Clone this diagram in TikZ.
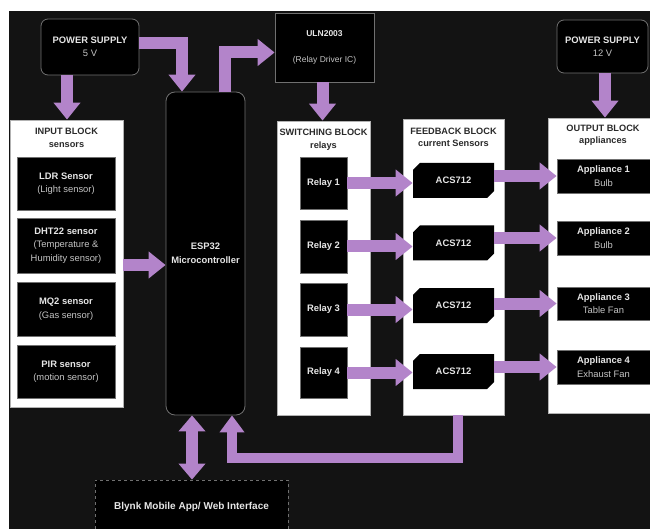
\documentclass[tikz,border=0pt]{standalone}
\usepackage{fontspec}
\setmainfont{Liberation Sans}
\usetikzlibrary{arrows.meta,shapes.misc,calc}
\definecolor{bgc}{HTML}{131313}
\definecolor{arrc}{HTML}{B384CA}
\definecolor{bordc}{HTML}{707070}
\definecolor{subc}{HTML}{C4C4C4}
\definecolor{txtc}{HTML}{E6E6E6}
\definecolor{ttlc}{HTML}{2A2A2A}
\begin{document}
\begin{tikzpicture}[x=1pt,y=-1pt,
  blk/.style={draw=bordc, line width=0.8pt, fill=black, text=txtc,
    font=\bfseries\fontsize{9.4}{13.5}\selectfont, align=center, inner sep=0pt},
  rblk/.style={blk, rounded corners=7pt},
  cont/.style={draw=gray!60, line width=0.8pt, fill=white, inner sep=0pt},
  ttl/.style={text=ttlc, font=\bfseries\fontsize{9.2}{12.5}\selectfont, align=center, inner sep=0pt},
  acs/.style={blk, draw=none, chamfered rectangle, chamfered rectangle corners={north west,south east},
    chamfered rectangle xsep=6pt, minimum width=81pt, minimum height=35pt},
  arr/.style={draw=arrc, line width=12pt, -{Triangle[width=26pt,length=17pt]}},
  arrt/.style={draw=arrc, line width=10pt, -{Triangle[width=24pt,length=17pt]}},
  darr/.style={draw=arrc, line width=12pt, {Triangle[width=26pt,length=16pt]}-{Triangle[width=26pt,length=16pt]}}
]
\clip (0,0) rectangle (650,529);
\fill[white] (0,0) rectangle (650,529);
\fill[bgc] (9,11) rectangle (650,529);

% power supplies and driver
\node[rblk, minimum width=98pt, minimum height=56pt] (ps5) at (90,47)
  {POWER SUPPLY\\\mdseries\color{subc}5 V};
\node[rblk, minimum width=91pt, minimum height=53pt] (ps12) at (602.5,46.5)
  {POWER SUPPLY\\\mdseries\color{subc}12 V};
\node[blk, minimum width=99pt, minimum height=69pt, font=\bfseries\fontsize{8.5}{11}\selectfont] (uln) at (324.5,47.5)
  {ULN2003\\[15pt]\mdseries\color{subc}(Relay Driver IC)};

% ESP32
\node[blk, rounded corners=9pt, minimum width=79pt, minimum height=323pt] (esp) at (205.5,253.5)
  {ESP32\\Microcontroller};

% input block
\node[cont, minimum width=113pt, minimum height=287pt] (inb) at (66.5,263.5) {};
\node[ttl] (inbt) at (66.5,138) {INPUT BLOCK\\sensors};
\node[blk, minimum width=98pt, minimum height=53pt] (s1) at (66,183.5) {LDR Sensor\\\mdseries\color{subc}(Light sensor)};
\node[blk, minimum width=98pt, minimum height=55pt] (s2) at (66,245.5) {DHT22 sensor\\\mdseries\color{subc}(Temperature \&\\\mdseries\color{subc}Humidity sensor)};
\node[blk, minimum width=98pt, minimum height=54pt] (s3) at (66,309) {MQ2 sensor\\\mdseries\color{subc}(Gas sensor)};
\node[blk, minimum width=98pt, minimum height=53pt] (s4) at (66,371.5) {PIR sensor\\\mdseries\color{subc}(motion sensor)};

% switching block
\node[cont, minimum width=93pt, minimum height=294pt] (sw) at (323.5,268) {};
\node[ttl] (swt) at (323.5,139.5) {SWITCHING BLOCK\\relays};
\node[blk, minimum width=47pt, minimum height=52pt] (r1) at (323.5,183) {Relay 1};
\node[blk, minimum width=47pt, minimum height=53pt] (r2) at (323.5,246.5) {Relay 2};
\node[blk, minimum width=47pt, minimum height=53pt] (r3) at (323.5,309.5) {Relay 3};
\node[blk, minimum width=47pt, minimum height=51pt] (r4) at (323.5,372.5) {Relay 4};

% feedback block
\node[cont, minimum width=101pt, minimum height=296pt] (fb) at (453.5,267) {};
\node[ttl] (fbt) at (453.5,137.5) {FEEDBACK BLOCK\\current Sensors};
\node[acs] (a1) at (453.5,180.5) {ACS712};
\node[acs] (a2) at (453.5,243) {ACS712};
\node[acs] (a3) at (453.5,305.5) {ACS712};
\node[acs] (a4) at (453.5,371.5) {ACS712};

% output block
\node[cont, minimum width=104pt, minimum height=295pt] (outb) at (600,265.5) {};
\node[ttl] (outt) at (603,135) {OUTPUT BLOCK\\appliances};
\node[blk, minimum width=93pt, minimum height=34pt] (p1) at (603.5,176) {Appliance 1\\\mdseries\color{subc}Bulb};
\node[blk, minimum width=93pt, minimum height=34pt] (p2) at (603.5,238) {Appliance 2\\\mdseries\color{subc}Bulb};
\node[blk, minimum width=93pt, minimum height=33pt] (p3) at (603.5,303.5) {Appliance 3\\\mdseries\color{subc}Table Fan};
\node[blk, minimum width=93pt, minimum height=34pt] (p4) at (603.5,367) {Appliance 4\\\mdseries\color{subc}Exhaust Fan};

% Blynk
\node[blk, dashed, minimum width=193pt, minimum height=54pt, font=\bfseries\fontsize{10}{12}\selectfont] (bl) at (191.5,507)
  {Blynk Mobile App/ Web Interface};

% arrows
\draw[arr] ([xshift=-23pt]ps5.south) -- ([xshift=-23pt]ps5.south |- inb.north);
\draw[arr] ([yshift=4pt]ps5.east) -| ([xshift=-23.5pt]esp.north);
\draw[arr] ([xshift=19pt]esp.north) |- ([yshift=-5pt]uln.west);
\draw[arr] ([xshift=-2pt]uln.south) -- ([xshift=-2pt]uln.south |- sw.north);
\draw[arr] ([xshift=2.5pt]ps12.south) -- ([xshift=2.5pt]ps12.south |- outb.north);
\draw[arr] ([yshift=-1.5pt]inb.east) -- ([yshift=-1.5pt]inb.east -| esp.west);
\foreach \i in {1,2,3,4}{
  \draw[arr] (r\i.east) -- (r\i.east -| a\i.west);
  \draw[arr] (p\i.west -| a\i.east) -- (p\i.west);
}
\draw[arrt] ([xshift=4.5pt]fb.south) -- ++(0,43) -| ([xshift=26.5pt]esp.south);
\draw[darr] ([xshift=-13.5pt]esp.south) -- ([xshift=-13.5pt]esp.south |- bl.north);
\end{tikzpicture}
\end{document}
